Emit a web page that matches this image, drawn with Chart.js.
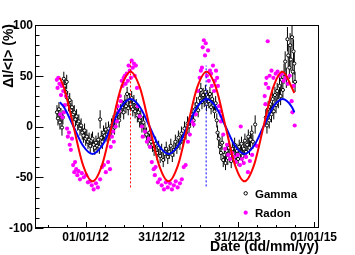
<!DOCTYPE html>
<html>
<head>
<meta charset="utf-8">
<script src="https://cdn.jsdelivr.net/npm/chart.js@4.4.1/dist/chart.umd.min.js"></script>
<style>
  html, body { margin: 0; padding: 0; background: #fff; }
  canvas { display: block; }
</style>
</head>
<body>
<canvas id="myChart" width="355" height="255"></canvas>
<script>
// gamma: [decimal year, dI/<I> (%), error]
const gammaData = [
  [2011.622, 14, 7], [2011.635, 8, 7], [2011.648, 17, 7], [2011.661, 4, 7], [2011.675, 11, 7], [2011.688, -1, 8], [2011.700, 9, 7],
  [2011.712, 47, 7], [2011.725, 40, 7], [2011.738, 34, 7], [2011.750, 44, 7], [2011.763, 28, 7], [2011.775, 22, 7], [2011.790, 26, 7],
  [2011.805, 16, 7], [2011.820, 19, 7], [2011.835, 12, 7], [2011.850, 14, 7], [2011.865, 7, 7], [2011.880, 10, 7], [2011.895, 3, 7],
  [2011.910, 5, 7], [2011.925, -2, 7], [2011.940, 1, 7], [2011.955, -6, 7], [2011.970, -9, 7], [2011.985, -4, 7], [2012.000, -12, 7],
  [2012.015, -10, 7], [2012.030, -15, 7], [2012.045, -13, 7], [2012.060, -19, 7], [2012.075, -14, 7], [2012.090, -12, 7], [2012.105, -18, 7],
  [2012.120, -21, 7], [2012.135, -16, 7], [2012.150, -19, 7], [2012.165, -13, 7], [2012.180, -20, 7], [2012.190, 7, 9], [2012.205, -11, 7],
  [2012.220, -15, 7], [2012.235, -6, 7], [2012.250, -9, 7], [2012.265, -3, 7], [2012.280, -8, 7], [2012.300, -2, 7], [2012.320, -7, 7],
  [2012.340, 1, 7], [2012.360, 4, 7], [2012.380, -1, 7], [2012.400, 8, 7], [2012.420, 12, 7], [2012.440, 6, 7], [2012.460, 15, 7],
  [2012.480, 19, 7], [2012.500, 14, 7], [2012.515, 24, 7], [2012.530, 20, 7], [2012.545, 32, 7], [2012.560, 18, 7], [2012.575, 26, 7],
  [2012.590, 22, 7], [2012.605, 28, 7], [2012.620, 17, 7], [2012.635, 24, 7], [2012.650, 15, 7], [2012.665, 20, 7], [2012.680, 11, 7],
  [2012.695, 14, 7], [2012.710, 6, 7], [2012.725, 9, 7], [2012.740, 1, 7], [2012.760, 4, 7], [2012.780, -4, 7], [2012.800, -8, 7],
  [2012.820, -12, 7], [2012.840, -6, 7], [2012.860, -15, 7], [2012.880, -18, 7], [2012.900, -22, 7], [2012.920, -17, 7], [2012.940, -26, 7],
  [2012.960, -21, 7], [2012.980, -29, 7], [2013.000, -24, 7], [2013.020, -33, 7], [2013.040, -27, 7], [2013.060, -22, 7], [2013.080, -30, 7],
  [2013.100, -25, 7], [2013.120, -19, 7], [2013.140, -28, 7], [2013.160, -23, 7], [2013.180, -15, 7], [2013.200, -20, 7], [2013.220, -11, 7],
  [2013.240, -16, 7], [2013.260, -7, 7], [2013.280, -12, 7], [2013.300, -2, 7], [2013.320, -6, 7], [2013.340, 3, 7], [2013.360, 0, 7],
  [2013.380, 8, 7], [2013.400, 12, 7], [2013.420, 6, 7], [2013.440, 17, 7], [2013.460, 22, 7], [2013.480, 16, 7], [2013.500, 28, 7],
  [2013.515, 36, 7], [2013.530, 24, 7], [2013.545, 31, 7], [2013.560, 26, 7], [2013.575, 34, 7], [2013.590, 22, 7], [2013.605, 29, 7],
  [2013.620, 25, 7], [2013.635, 32, 7], [2013.650, 19, 7], [2013.665, 27, 7], [2013.680, 21, 7], [2013.695, 15, 7], [2013.710, 23, 7],
  [2013.725, 6, 7], [2013.735, -6, 7], [2013.750, -12, 7], [2013.765, -20, 7], [2013.780, -26, 7], [2013.795, -16, 7], [2013.810, -33, 7],
  [2013.825, -28, 7], [2013.840, -36, 7], [2013.855, -24, 7], [2013.870, -31, 7], [2013.885, -21, 7], [2013.900, -29, 7], [2013.915, -34, 7],
  [2013.930, -22, 7], [2013.945, -27, 7], [2013.960, -18, 7], [2013.975, -30, 7], [2013.990, -24, 7], [2014.005, -32, 7], [2014.020, -20, 7],
  [2014.035, -26, 7], [2014.050, -17, 7], [2014.065, -29, 7], [2014.080, -22, 7], [2014.095, -14, 7], [2014.110, -25, 7], [2014.125, -18, 7],
  [2014.140, -10, 7], [2014.155, -21, 7], [2014.170, -13, 7], [2014.185, -6, 7], [2014.200, -15, 7], [2014.230, 2, 9],
  [2014.370, 9, 8], [2014.385, 1, 8], [2014.400, 17, 8], [2014.415, 6, 8], [2014.430, 22, 8], [2014.445, 12, 8], [2014.460, 27, 8],
  [2014.475, 15, 8], [2014.490, 31, 8], [2014.505, 21, 8], [2014.520, 35, 8], [2014.535, 26, 8], [2014.550, 40, 9], [2014.565, 30, 9],
  [2014.580, 46, 9], [2014.595, 36, 9], [2014.610, 52, 10], [2014.625, 64, 10], [2014.640, 48, 10], [2014.655, 86, 12], [2014.665, 70, 11],
  [2014.680, 58, 11], [2014.690, 80, 12], [2014.700, 66, 11], [2014.715, 88, 12], [2014.725, 54, 11], [2014.735, 74, 12], [2014.745, 62, 11],
  [2014.755, 44, 10]
];

// radon: [decimal year, dI/<I> (%)]
const radonData = [
  [2011.620, 46], [2011.630, 38], [2011.640, 48], [2011.655, 42], [2011.665, 12], [2011.675, 31], [2011.685, 40], [2011.695, 9],
  [2011.705, 35], [2011.715, 14], [2011.725, 21], [2011.740, 30], [2011.755, -2], [2011.765, -10], [2011.780, -6], [2011.790, -18],
  [2011.805, -23], [2011.820, -12], [2011.835, -38], [2011.850, -45], [2011.860, -35], [2011.875, -42], [2011.890, -48], [2011.905, -44],
  [2011.925, -52], [2011.950, -46], [2011.975, -50], [2012.005, -48], [2012.030, -55], [2012.055, -54], [2012.080, -58], [2012.105, -62],
  [2012.135, -56], [2012.160, -60], [2012.190, -52], [2012.215, -40], [2012.240, -38], [2012.265, -45], [2012.295, -35], [2012.320, -42],
  [2012.330, -20], [2012.345, -10], [2012.360, -5], [2012.370, -15], [2012.395, 0], [2012.410, 5], [2012.420, 20], [2012.435, 15],
  [2012.450, 30], [2012.460, 25], [2012.475, 45], [2012.485, 40], [2012.500, 48], [2012.515, 50], [2012.525, 42], [2012.540, 52],
  [2012.555, 45], [2012.565, 60], [2012.580, 55], [2012.595, 48], [2012.605, 65], [2012.620, 58], [2012.635, 62], [2012.645, 50],
  [2012.660, 60], [2012.675, 38], [2012.685, 20], [2012.710, 10], [2012.740, 0], [2012.750, -10], [2012.780, -5], [2012.805, -15],
  [2012.830, -12], [2012.845, -20], [2012.870, -35], [2012.895, -42], [2012.910, -48], [2012.920, -40], [2012.950, -55], [2012.975, -52],
  [2013.000, -58], [2013.030, -62], [2013.055, -55], [2013.080, -60], [2013.110, -56], [2013.135, -62], [2013.160, -58], [2013.185, -54],
  [2013.210, -60], [2013.240, -56], [2013.265, -52], [2013.290, -40], [2013.315, -38], [2013.345, -15], [2013.370, -8], [2013.395, 5],
  [2013.420, 2], [2013.450, 12], [2013.475, 35], [2013.500, 48], [2013.515, 55], [2013.530, 58], [2013.540, 78], [2013.555, 85],
  [2013.570, 70], [2013.580, 82], [2013.595, 50], [2013.610, 75], [2013.620, 45], [2013.635, 55], [2013.650, 52], [2013.660, 40],
  [2013.675, 60], [2013.690, 35], [2013.700, 45], [2013.715, 55], [2013.730, 48], [2013.740, 40], [2013.755, 20], [2013.770, 15],
  [2013.780, 5], [2013.790, 10], [2013.810, -8], [2013.835, -22], [2013.860, -18], [2013.875, -28], [2013.900, -32], [2013.925, -26],
  [2013.950, -30], [2013.975, -35], [2014.000, -28], [2014.030, -38], [2014.040, 0], [2014.055, -32], [2014.080, -36], [2014.110, -30],
  [2014.135, -45], [2014.160, -34], [2014.190, -28], [2014.250, -19], [2014.355, 30], [2014.365, 22], [2014.370, 42], [2014.380, 48],
  [2014.395, 84], [2014.405, 38], [2014.420, 50], [2014.445, 55], [2014.470, 48], [2014.500, 52], [2014.525, 54], [2014.550, 50],
  [2014.580, 52], [2014.605, 45], [2014.630, 48], [2014.660, 42], [2014.685, 50], [2014.710, 25], [2014.720, 14], [2014.735, 40],
  [2014.750, 1]
];

// fitted curves: [decimal year, value]
const redFit = [
  [2011.66, 48], [2011.715, 38], [2011.84, 0], [2011.965, -38], [2012.09, -54], [2012.215, -38], [2012.34, 0], [2012.465, 38],
  [2012.59, 54], [2012.715, 38], [2012.84, 0], [2012.965, -38], [2013.09, -54], [2013.215, -38], [2013.34, 0], [2013.465, 38],
  [2013.59, 54], [2013.715, 38], [2013.84, 0], [2013.965, -38], [2014.09, -54], [2014.215, -38], [2014.34, 0], [2014.465, 38],
  [2014.59, 54], [2014.715, 38], [2014.745, 33]
];
const blueFit = [
  [2011.66, 24], [2011.715, 19], [2011.84, 0], [2011.965, -19], [2012.09, -27], [2012.215, -19], [2012.34, 0], [2012.465, 19],
  [2012.59, 27], [2012.715, 19], [2012.84, 0], [2012.965, -19], [2013.09, -27], [2013.215, -19], [2013.34, 0], [2013.465, 19],
  [2013.59, 27], [2013.715, 19], [2013.84, 0], [2013.965, -19], [2014.09, -27], [2014.215, -19], [2014.34, 0], [2014.465, 19],
  [2014.59, 27], [2014.715, 19], [2014.745, 14]
];
const redPeakLine = [[2012.59, -60], [2012.59, 64]];
const bluePeakLine = [[2013.585, -59], [2013.585, 60]];

const yTicks = [-100, -50, 0, 50, 100];
const xTickYears = [2012, 2013, 2014, 2015];
const xTickLabels = ["01/01/12", "31/12/12", "31/12/13", "01/01/15"];
const xMin = 2011.333;
const xMax = 2015.07;

const FONT = '"Liberation Sans", Arial, Helvetica, sans-serif';

function toXY(list) {
  return list.map((p) => ({ x: p[0], y: p[1] }));
}

// ROOT style frame, inward ticks, labels, legend and gamma error bars
const rootAxes = {
  id: "rootAxes",
  beforeDatasetsDraw(chart) {
    const { ctx, chartArea: a, scales } = chart;
    ctx.save();
    ctx.beginPath();
    ctx.rect(a.left, a.top, a.right - a.left, a.bottom - a.top);
    ctx.clip();
    ctx.strokeStyle = "#000";
    ctx.lineWidth = 1;
    gammaData.forEach((p) => {
      const px = scales.x.getPixelForValue(p[0]);
      ctx.beginPath();
      ctx.moveTo(px, scales.y.getPixelForValue(p[1] - p[2]));
      ctx.lineTo(px, scales.y.getPixelForValue(p[1] + p[2]));
      ctx.stroke();
    });
    ctx.restore();
  },
  afterDraw(chart) {
    const { ctx, chartArea: a, scales } = chart;
    const xs = scales.x, ys = scales.y;
    ctx.save();
    ctx.strokeStyle = "#000";
    ctx.lineWidth = 1;
    ctx.strokeRect(a.left + 0.5, a.top + 0.5, a.right - a.left - 1, a.bottom - a.top - 1);

    // y ticks (inside, on the left)
    ctx.beginPath();
    for (let v = -100; v <= 100; v += 10) {
      const py = Math.round(ys.getPixelForValue(v)) + 0.5;
      const len = v % 50 === 0 ? 8.5 : 4.5;
      ctx.moveTo(a.left, py);
      ctx.lineTo(a.left + len, py);
    }
    // x ticks every quarter (inside, at the bottom)
    for (let q = 2011.5; q <= xMax; q += 0.25) {
      const px = Math.round(xs.getPixelForValue(q)) + 0.5;
      const len = Number.isInteger(q) ? 6 : 3;
      ctx.moveTo(px, a.bottom);
      ctx.lineTo(px, a.bottom - len);
    }
    ctx.stroke();

    ctx.fillStyle = "#000";
    ctx.font = "bold 12px " + FONT;
    ctx.textAlign = "right";
    ctx.textBaseline = "middle";
    yTicks.forEach((v) => {
      ctx.fillText(String(v), a.left - 2, ys.getPixelForValue(v) + 0.5);
    });
    ctx.textAlign = "center";
    ctx.textBaseline = "alphabetic";
    xTickYears.forEach((yr, i) => {
      ctx.fillText(xTickLabels[i], xs.getPixelForValue(yr), a.bottom + 12.5);
    });

    ctx.font = "bold 14px " + FONT;
    ctx.textAlign = "right";
    ctx.fillText("Date (dd/mm/yy)", a.right, 250.5);

    ctx.save();
    ctx.translate(12.5, a.top - 1);
    ctx.rotate(-Math.PI / 2);
    ctx.textAlign = "right";
    ctx.fillText("\u0394I/<I> (%)", 0, 0);
    ctx.restore();

    // legend
    const lx = 245.7;
    ctx.font = "bold 11.5px " + FONT;
    ctx.textAlign = "left";
    ctx.beginPath();
    ctx.arc(lx, 193.3, 1.7, 0, Math.PI * 2);
    ctx.fillStyle = "#fff";
    ctx.fill();
    ctx.lineWidth = 1;
    ctx.strokeStyle = "#000";
    ctx.stroke();
    ctx.fillStyle = "#000";
    ctx.fillText("Gamma", 255, 197.5);
    ctx.beginPath();
    ctx.arc(lx, 212.7, 2.1, 0, Math.PI * 2);
    ctx.fillStyle = "#ff00ff";
    ctx.fill();
    ctx.fillStyle = "#000";
    ctx.fillText("Radon", 255, 216.9);
    ctx.restore();
  }
};

function mainEvent() {
  const target = document.querySelector("#myChart");

  const data = {
    datasets: [
      {
        label: "Radon fit",
        data: toXY(redFit),
        showLine: true,
        borderColor: "#ff0000",
        borderWidth: 2,
        pointRadius: 0,
        cubicInterpolationMode: "monotone",
        order: 0
      },
      {
        label: "Gamma fit",
        data: toXY(blueFit),
        showLine: true,
        borderColor: "#0000ff",
        borderWidth: 2,
        pointRadius: 0,
        cubicInterpolationMode: "monotone",
        order: 1
      },
      {
        label: "Radon peak",
        data: toXY(redPeakLine),
        showLine: true,
        borderColor: "#ff0000",
        borderWidth: 1,
        borderDash: [2, 2],
        pointRadius: 0,
        order: 2
      },
      {
        label: "Gamma peak",
        data: toXY(bluePeakLine),
        showLine: true,
        borderColor: "#0000ff",
        borderWidth: 1,
        borderDash: [2, 2],
        pointRadius: 0,
        order: 2
      },
      {
        label: "Radon",
        data: toXY(radonData),
        backgroundColor: "#ff00ff",
        borderWidth: 0,
        pointRadius: 2.1,
        order: 3
      },
      {
        label: "Gamma",
        data: toXY(gammaData),
        backgroundColor: "#ffffff",
        borderColor: "#000000",
        borderWidth: 1,
        pointRadius: 1.6,
        order: 4
      }
    ]
  };

  const config = {
    type: "scatter",
    data: data,
    options: {
      responsive: false,
      animation: false,
      devicePixelRatio: 1,
      layout: {
        padding: { left: 35, top: 25, right: 36, bottom: 27 }
      },
      scales: {
        x: { type: "linear", min: xMin, max: xMax, display: false },
        y: { type: "linear", min: -100, max: 100, display: false }
      },
      plugins: {
        legend: { display: false },
        tooltip: { enabled: false }
      }
    },
    plugins: [rootAxes]
  };

  return new Chart(target, config);
}
document.addEventListener("DOMContentLoaded", () => mainEvent());
</script>
</body>
</html>
